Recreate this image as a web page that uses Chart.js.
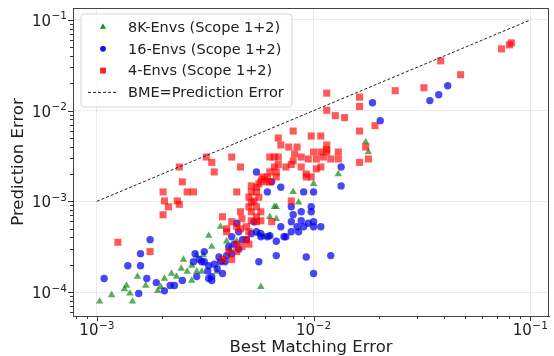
<!DOCTYPE html>
<html>
<head>
<meta charset="utf-8">
<script src="https://cdn.jsdelivr.net/npm/chart.js@4.4.1/dist/chart.umd.min.js"></script>
<style>
  html, body { margin: 0; padding: 0; background: #fff; }
  #chart { display: block; }
</style>
</head>
<body>
<canvas id="chart" width="554" height="356"></canvas>
<script>
// --- data ---
const X_TICKS = [1e-3, 1e-2, 1e-1];
const X_TICK_EXPONENTS = ['−3', '−2', '−1'];
const Y_TICKS = [1e-4, 1e-3, 1e-2, 1e-1];
const Y_TICK_EXPONENTS = ['−4', '−3', '−2', '−1'];

const SERIES_LABELS = ['8K-Envs (Scope 1+2)', '16-Envs (Scope 1+2)', '4-Envs (Scope 1+2)', 'BME=Prediction Error'];

const envs8kBme = [1.03e-3, 1.17e-3, 1.34e-3, 1.37e-3, 1.46e-3, 1.42e-3, 1.54e-3, 1.68e-3, 1.91e-3, 1.97e-3,
  2.05e-3, 2.21e-3, 2.33e-3, 2.45e-3, 2.51e-3, 2.61e-3, 2.74e-3, 2.74e-3, 2.89e-3, 3.28e-3,
  3.39e-3, 3.05e-3, 3.59e-3, 3.10e-3, 2.89e-3, 1.00e-2, 8.05e-3, 8.53e-3, 6.59e-3, 6.73e-3,
  6.28e-3, 6.73e-3, 3.72e-3, 5.71e-3, 5.59e-3, 6.28e-3, 5.93e-3, 3.97e-3, 4.42e-3, 1.30e-2,
  1.74e-2, 1.79e-2, 3.80e-3, 4.10e-3];
const envs8kPred = [7.87e-5, 9.27e-5, 1.08e-4, 1.18e-4, 7.87e-5, 9.64e-5, 1.48e-4, 1.18e-4, 1.03e-4, 1.14e-4,
  1.41e-4, 1.60e-4, 1.48e-4, 1.81e-4, 2.28e-4, 1.68e-4, 1.34e-4, 1.95e-4, 1.68e-4, 4.18e-4,
  3.16e-4, 1.68e-4, 1.68e-4, 2.55e-4, 2.52e-4, 1.56e-3, 1.27e-3, 9.75e-4, 8.71e-4, 8.71e-4,
  6.76e-4, 6.43e-4, 5.25e-4, 1.14e-4, 4.40e-4, 4.18e-4, 4.07e-4, 3.63e-4, 3.63e-4, 2.00e-3,
  4.51e-3, 3.50e-3, 2.16e-4, 2.97e-4];

const envs16Bme = [1.76e-3, 1.59e-3, 1.39e-3, 1.59e-3, 1.08e-3, 1.70e-3, 1.56e-3, 1.88e-3, 2.05e-3, 2.18e-3,
  2.28e-3, 2.48e-3, 2.84e-3, 3.13e-3, 2.79e-3, 3.05e-3, 3.28e-3, 3.39e-3, 3.48e-3, 3.59e-3,
  3.72e-3, 3.97e-3, 3.39e-3, 2.89e-3, 3.28e-3, 3.13e-3, 2.97e-3, 7.06e-3, 9.00e-3, 1.00e-2,
  1.34e-2, 7.89e-3, 9.75e-3, 8.77e-3, 9.75e-3, 8.05e-3, 7.89e-3, 8.77e-3, 9.45e-3, 1.00e-2,
  1.08e-2, 1.00e-2, 9.00e-3, 8.39e-3, 7.89e-3, 8.53e-3, 7.06e-3, 7.45e-3, 6.73e-3, 6.28e-3,
  5.71e-3, 5.45e-3, 5.16e-3, 4.90e-3, 4.51e-3, 4.19e-3, 4.06e-3, 4.51e-3, 4.19e-3, 5.59e-3,
  6.73e-3, 9.25e-3, 1.20e-2, 1.00e-2, 5.45e-3, 1.34e-2, 1.87e-2, 2.03e-2, 3.44e-2, 3.78e-2,
  4.16e-2, 6.41e-3, 6.12e-3, 4.42e-3, 5.31e-3, 3.80e-3, 3.66e-3, 4.30e-3, 4.70e-3, 3.90e-3,
  3.25e-3, 5.71e-3, 6.12e-3, 7.30e-3];
const envs16Pred = [3.78e-4, 2.65e-4, 1.95e-4, 1.95e-4, 1.41e-4, 1.41e-4, 9.64e-5, 1.27e-4, 1.03e-4, 1.18e-4,
  1.18e-4, 1.34e-4, 2.65e-4, 2.79e-4, 2.16e-4, 2.16e-4, 1.41e-4, 1.34e-4, 2.03e-4, 1.81e-4,
  2.16e-4, 2.52e-4, 1.48e-4, 1.48e-4, 1.95e-4, 2.16e-4, 2.28e-4, 1.43e-3, 1.27e-3, 1.27e-3,
  1.48e-3, 8.71e-4, 8.71e-4, 7.67e-4, 7.67e-4, 7.11e-4, 5.96e-4, 6.11e-4, 5.73e-4, 5.96e-4,
  5.25e-4, 5.25e-4, 5.25e-4, 5.25e-4, 4.62e-4, 4.62e-4, 5.25e-4, 4.07e-4, 3.63e-4, 4.18e-4,
  4.07e-4, 4.62e-4, 4.40e-4, 3.78e-4, 4.62e-4, 4.07e-4, 3.16e-4, 2.97e-4, 2.65e-4, 2.16e-4,
  2.52e-4, 2.43e-4, 2.52e-4, 1.60e-4, 2.11e-3, 2.39e-3, 1.22e-2, 7.76e-3, 1.29e-2, 1.50e-2,
  1.88e-2, 1.64e-3, 1.27e-3, 5.73e-4, 5.96e-4, 1.60e-4, 2.43e-4, 3.37e-4, 3.78e-4, 2.16e-4,
  1.70e-4, 4.40e-4, 4.07e-4, 4.07e-4];

const envs4Bme = [1.25e-3, 1.76e-3, 2.40e-3, 2.02e-3, 2.48e-3, 2.05e-3, 2.35e-3, 2.14e-3, 2.40e-3, 2.02e-3,
  2.61e-3, 2.79e-3, 4.42e-3, 5.16e-3, 5.45e-3, 5.71e-3, 6.12e-3, 5.16e-3, 5.45e-3, 5.03e-3,
  5.31e-3, 5.59e-3, 5.16e-3, 5.45e-3, 5.03e-3, 5.16e-3, 5.71e-3, 5.45e-3, 5.16e-3, 5.45e-3,
  5.71e-3, 4.60e-3, 4.67e-3, 3.80e-3, 4.19e-3, 3.97e-3, 4.42e-3, 4.60e-3, 4.90e-3, 5.03e-3,
  4.90e-3, 5.03e-3, 4.67e-3, 4.42e-3, 4.42e-3, 3.80e-3, 4.06e-3, 4.19e-3, 6.41e-3, 7.89e-3,
  3.97e-3, 1.15e-2, 1.15e-2, 1.26e-2, 1.39e-2, 8.05e-3, 6.87e-3, 7.06e-3, 9.75e-3, 4.19e-3,
  3.20e-3, 3.39e-3, 3.48e-3, 4.60e-3, 6.28e-3, 6.59e-3, 6.87e-3, 7.68e-3, 8.39e-3, 8.18e-3,
  8.77e-3, 9.45e-3, 1.00e-2, 1.08e-2, 1.15e-2, 1.15e-2, 1.08e-2, 1.30e-2, 1.30e-2, 1.20e-2,
  1.03e-2, 1.11e-2, 8.05e-3, 7.89e-3, 8.77e-3, 9.25e-3, 1.03e-2, 1.08e-2, 6.87e-3, 6.59e-3,
  6.28e-3, 7.45e-3, 6.73e-3, 6.73e-3, 6.12e-3, 5.93e-3, 6.28e-3, 5.59e-3, 5.77e-3, 9.25e-3,
  9.75e-3, 7.36e-2, 8.01e-2, 8.18e-2, 3.86e-2, 4.77e-2, 3.23e-2, 2.38e-2, 1.63e-2, 1.63e-2,
  1.63e-2, 1.92e-2, 1.15e-2, 1.63e-2, 1.79e-2, 1.74e-2];
const envs4Pred = [3.54e-4, 2.79e-4, 2.39e-3, 1.27e-3, 1.64e-3, 1.01e-3, 1.01e-3, 8.71e-4, 9.27e-4, 7.11e-4,
  1.27e-3, 1.27e-3, 1.27e-3, 1.48e-3, 1.43e-3, 1.64e-3, 1.64e-3, 1.27e-3, 1.27e-3, 1.11e-3,
  1.01e-3, 1.11e-3, 9.75e-4, 8.71e-4, 8.71e-4, 7.67e-4, 7.67e-4, 6.76e-4, 6.11e-4, 5.96e-4,
  6.11e-4, 7.67e-4, 6.43e-4, 6.76e-4, 5.96e-4, 4.99e-4, 5.25e-4, 4.99e-4, 5.25e-4, 4.62e-4,
  3.78e-4, 3.37e-4, 3.16e-4, 2.79e-4, 3.37e-4, 2.28e-4, 2.79e-4, 2.28e-4, 5.96e-4, 1.01e-3,
  4.62e-4, 1.56e-2, 1.01e-2, 8.81e-3, 8.38e-3, 5.96e-3, 4.99e-3, 4.18e-3, 5.25e-3, 3.08e-3,
  3.08e-3, 2.69e-3, 2.11e-3, 2.39e-3, 3.08e-3, 3.08e-3, 3.08e-3, 3.97e-3, 3.97e-3, 3.33e-3,
  3.08e-3, 2.93e-3, 3.50e-3, 3.50e-3, 3.50e-3, 4.18e-3, 5.25e-3, 3.50e-3, 2.93e-3, 2.93e-3,
  2.93e-3, 3.08e-3, 2.79e-3, 2.55e-3, 2.39e-3, 2.00e-3, 2.28e-3, 2.39e-3, 2.55e-3, 2.39e-3,
  2.11e-3, 2.39e-3, 2.11e-3, 1.86e-3, 1.86e-3, 1.75e-3, 1.64e-3, 1.56e-3, 1.86e-3, 1.86e-3,
  1.86e-3, 4.80e-2, 5.31e-2, 5.59e-2, 3.54e-2, 2.49e-2, 1.79e-2, 1.66e-2, 1.41e-2, 1.11e-2,
  5.96e-3, 6.84e-3, 3.73e-3, 2.69e-3, 2.93e-3, 3.97e-3];

const diagX = [1e-3, 1e-1];
const diagY = [1e-3, 1e-1];

// --- styles ---
const GREEN = 'rgba(0,128,0,0.65)';
const BLUE = 'rgba(0,0,240,0.72)';
const RED = 'rgba(255,0,0,0.65)';
const TEXT = '#222';
const FONT = "'DejaVu Sans', sans-serif";
const BASE_PX = 15, SUP_PX = 10.5;

function pts(xs, ys) {
  return xs.map((x, i) => ({ x: x, y: ys[i] }));
}

// major ticks at decades plus 2..9 minor ticks, like matplotlib's log axis
function logTicks(scale) {
  const ticks = [];
  for (let e = -5; e <= 0; e++) {
    for (let m = 1; m <= 9; m++) {
      const v = m * Math.pow(10, e);
      if (v >= scale.min && v <= scale.max) ticks.push({ value: v, major: m === 1 });
    }
  }
  scale.ticks = ticks;
}

// "10" with a raised exponent, anchored at (x, y) = baseline of the "10"
function drawPow(ctx, exp, x, y, align) {
  ctx.font = BASE_PX + 'px ' + FONT;
  const wBase = ctx.measureText('10').width;
  ctx.font = SUP_PX + 'px ' + FONT;
  const wSup = ctx.measureText(exp).width;
  const total = wBase + wSup + 0.5;
  let left = x;
  if (align === 'center') left = x - total / 2;
  if (align === 'right') left = x - total;
  ctx.textAlign = 'left';
  ctx.textBaseline = 'alphabetic';
  ctx.font = BASE_PX + 'px ' + FONT;
  ctx.fillText('10', left, y);
  ctx.font = SUP_PX + 'px ' + FONT;
  ctx.fillText(exp, left + wBase + 0.5, y - 6.5);
}

// outward tick marks, tick labels and the frame
const axesDecor = {
  id: 'axesDecor',
  afterDraw(chart) {
    const { ctx, chartArea, scales } = chart;
    ctx.save();
    ctx.strokeStyle = '#333';
    ctx.lineWidth = 1;
    scales.x.ticks.forEach(t => {
      const px = Math.round(scales.x.getPixelForValue(t.value)) + 0.5;
      const len = t.major ? 5 : 3;
      ctx.beginPath();
      ctx.moveTo(px, chartArea.bottom);
      ctx.lineTo(px, chartArea.bottom + len);
      ctx.stroke();
    });
    scales.y.ticks.forEach(t => {
      const py = Math.round(scales.y.getPixelForValue(t.value)) + 0.5;
      const len = t.major ? 5 : 3;
      ctx.beginPath();
      ctx.moveTo(chartArea.left, py);
      ctx.lineTo(chartArea.left - len, py);
      ctx.stroke();
    });
    ctx.strokeStyle = '#444';
    ctx.strokeRect(Math.round(chartArea.left) + 0.5, Math.round(chartArea.top) + 0.5,
      Math.round(chartArea.right - chartArea.left) - 1, Math.round(chartArea.bottom - chartArea.top));

    ctx.fillStyle = TEXT;
    X_TICKS.forEach((v, i) => {
      const px = scales.x.getPixelForValue(v);
      drawPow(ctx, X_TICK_EXPONENTS[i], px, chartArea.bottom + 19, 'center');
    });
    Y_TICKS.forEach((v, i) => {
      const py = scales.y.getPixelForValue(v);
      drawPow(ctx, Y_TICK_EXPONENTS[i], chartArea.left - 6, py + 6, 'right');
    });
    ctx.restore();
  }
};

// matplotlib-style legend box in the upper left corner of the plot
const boxLegend = {
  id: 'boxLegend',
  afterDraw(chart) {
    const { ctx, chartArea } = chart;
    const x0 = chartArea.left + 8, y0 = chartArea.top + 6;
    const w = 211, h = 93, r = 3;
    ctx.save();
    ctx.beginPath();
    ctx.moveTo(x0 + r, y0);
    ctx.arcTo(x0 + w, y0, x0 + w, y0 + h, r);
    ctx.arcTo(x0 + w, y0 + h, x0, y0 + h, r);
    ctx.arcTo(x0, y0 + h, x0, y0, r);
    ctx.arcTo(x0, y0, x0 + w, y0, r);
    ctx.closePath();
    ctx.fillStyle = 'rgba(255,255,255,0.8)';
    ctx.fill();
    ctx.strokeStyle = '#d6d6d6';
    ctx.lineWidth = 1;
    ctx.stroke();

    const markers = [
      { style: 'triangle', color: GREEN, radius: 3.4 },
      { style: 'circle', color: BLUE, radius: 2.8 },
      { style: 'rect', color: RED, radius: 4 },
      { style: 'line' }
    ];
    ctx.font = '14.5px ' + FONT;
    ctx.textBaseline = 'middle';
    ctx.textAlign = 'left';
    markers.forEach((m, i) => {
      const cy = y0 + 13 + i * 21.8;
      const mx = x0 + 22;
      if (m.style === 'line') {
        ctx.beginPath();
        ctx.setLineDash([3, 2]);
        ctx.strokeStyle = '#222';
        ctx.lineWidth = 1;
        ctx.moveTo(x0 + 7, cy);
        ctx.lineTo(x0 + 37, cy);
        ctx.stroke();
        ctx.setLineDash([]);
      } else {
        ctx.fillStyle = m.color;
        Chart.helpers.drawPoint(ctx, { pointStyle: m.style, radius: m.radius, borderWidth: 0, rotation: 0 }, mx, cy);
        ctx.fill();
      }
      ctx.fillStyle = TEXT;
      ctx.fillText(SERIES_LABELS[i], x0 + 47, cy + 1);
    });
    ctx.restore();
  }
};

const majorGrid = ctx => (ctx.tick && ctx.tick.major) ? 'rgba(0,0,0,0.08)' : 'rgba(0,0,0,0)';

new Chart(document.getElementById('chart'), {
  type: 'scatter',
  plugins: [axesDecor, boxLegend],
  data: {
    datasets: [
      {
        label: SERIES_LABELS[3],
        data: pts(diagX, diagY),
        showLine: true,
        borderColor: '#222',
        borderWidth: 1,
        borderDash: [3, 2],
        pointRadius: 0,
        order: 0
      },
      {
        label: SERIES_LABELS[2],
        data: pts(envs4Bme, envs4Pred),
        pointStyle: 'rect',
        pointRadius: 5,
        backgroundColor: RED,
        borderWidth: 0,
        order: 1
      },
      {
        label: SERIES_LABELS[1],
        data: pts(envs16Bme, envs16Pred),
        pointStyle: 'circle',
        pointRadius: 3.7,
        backgroundColor: BLUE,
        borderWidth: 0,
        order: 2
      },
      {
        label: SERIES_LABELS[0],
        data: pts(envs8kBme, envs8kPred),
        pointStyle: 'triangle',
        pointRadius: 4.3,
        backgroundColor: GREEN,
        borderWidth: 0,
        order: 3
      }
    ]
  },
  options: {
    responsive: false,
    animation: false,
    layout: { padding: { top: 8, right: 2, left: 0, bottom: 0 } },
    plugins: {
      legend: { display: false },
      tooltip: { enabled: false }
    },
    scales: {
      x: {
        type: 'logarithmic',
        position: 'bottom',
        min: 7.76e-4,
        max: 0.122,
        bounds: 'data',
        afterBuildTicks: logTicks,
        afterFit: s => { s.height = 40; },
        ticks: { display: false, autoSkip: false },
        grid: { drawTicks: false, color: majorGrid },
        border: { display: true, color: '#444' },
        title: {
          display: true,
          text: 'Best Matching Error',
          color: TEXT,
          font: { family: FONT, size: 16.5, lineHeight: 1 },
          padding: { top: 0, bottom: 0 }
        }
      },
      y: {
        type: 'logarithmic',
        min: 5.44e-5,
        max: 0.1355,
        bounds: 'data',
        afterBuildTicks: logTicks,
        afterFit: s => { s.width = 73; },
        ticks: { display: false, autoSkip: false },
        grid: { drawTicks: false, color: majorGrid },
        border: { display: true, color: '#444' },
        title: {
          display: true,
          text: 'Prediction Error',
          color: TEXT,
          font: { family: FONT, size: 16.5, lineHeight: 1 },
          padding: { top: 10.5, bottom: 0 }
        }
      }
    }
  }
});
</script>
</body>
</html>
